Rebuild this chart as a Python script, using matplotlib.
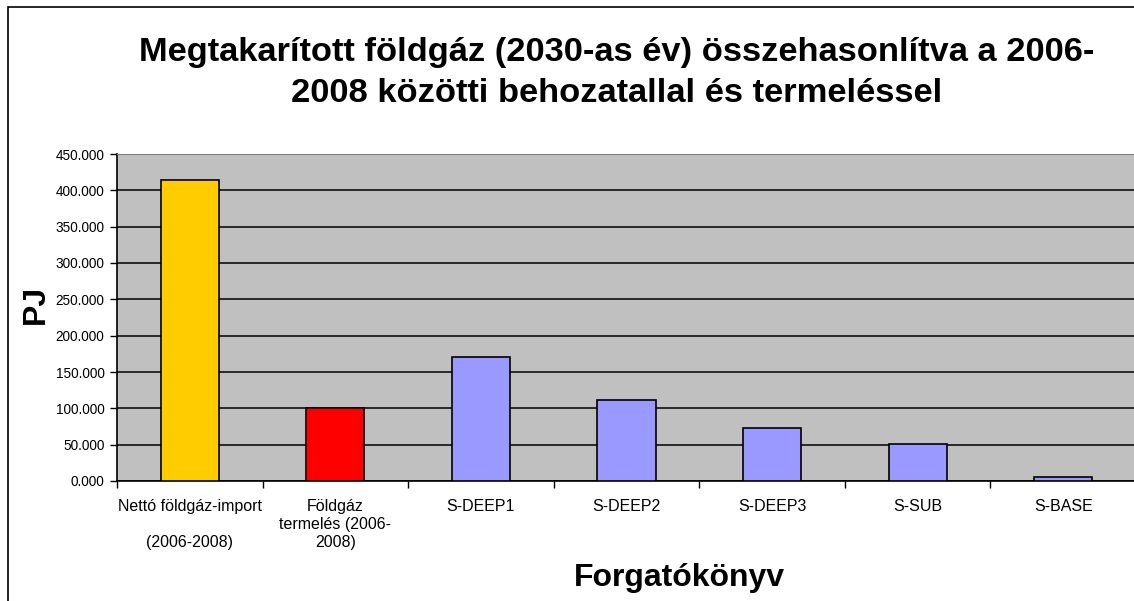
import matplotlib.pyplot as plt
import matplotlib.patches as patches
from matplotlib.ticker import FuncFormatter, MultipleLocator
import numpy as np

# Chart data
categories = ['Nettó földgáz-import\n\n(2006-2008)', 'Földgáz\ntermelés (2006-\n2008)',
              'S-DEEP1', 'S-DEEP2', 'S-DEEP3', 'S-SUB', 'S-BASE']
values = [414, 100, 170, 111.5, 73, 51.5, 6]
bar_colors = ['#FFCC00', '#FF0000', '#9999FF', '#9999FF', '#9999FF', '#9999FF', '#9999FF']

plt.rcParams['font.family'] = ['Liberation Sans', 'DejaVu Sans']

fig = plt.figure(figsize=(11.34, 6.01), dpi=100)

# outer border of the chart area (left and top edges visible)
border = patches.Rectangle((8 / 1134, -0.05), 1.2, 1 - 7 / 601 + 0.05,
                           transform=fig.transFigure, fill=False,
                           edgecolor='black', linewidth=1.2)
fig.patches.append(border)

ax = fig.add_axes([117 / 1134, 1 - 481 / 601, 1019 / 1134, 327 / 601])
ax.set_facecolor('#C0C0C0')

x = np.arange(len(categories))
ax.bar(x, values, width=0.4, color=bar_colors, edgecolor='black', linewidth=1.2, zorder=3)

ax.set_xlim(-0.5, len(categories) - 0.5)
ax.set_ylim(0, 450)

# y axis
ax.yaxis.set_major_locator(MultipleLocator(50))
ax.yaxis.set_major_formatter(FuncFormatter(lambda v, p: '%.3f' % v))
ax.tick_params(axis='y', direction='out', length=5, width=1, pad=4, labelsize=9.8)
ax.grid(axis='y', color='black', linewidth=1.1, zorder=1)
ax.yaxis.get_gridlines()[-1].set_color('#808080')

# x axis: ticks between categories, labels in the middle
ax.set_xticks(np.arange(len(categories) + 1) - 0.5)
ax.set_xticklabels([])
ax.set_xticks(x, minor=True)
ax.set_xticklabels(categories, minor=True, fontsize=11.5, linespacing=1.25)
ax.tick_params(axis='x', which='major', direction='out', length=5, width=1)
ax.tick_params(axis='x', which='minor', length=0, pad=13)

for side in ['left', 'bottom']:
    ax.spines[side].set_color('black')
    ax.spines[side].set_linewidth(1.2)
ax.spines['top'].set_color('#808080')
ax.spines['right'].set_visible(False)

ax.set_ylabel('PJ', fontsize=23, fontweight='bold', rotation=90, va='center')
ax.yaxis.set_label_coords(-0.08, 0.54)
ax.set_xlabel('Forgatókönyv', fontsize=23, fontweight='bold', va='center')
ax.xaxis.set_label_coords(0.552, -0.297)

fig.text(617 / 1134, 1 - 73 / 601,
         'Megtakarított földgáz (2030-as év) összehasonlítva a 2006-\n2008 közötti behozatallal és termeléssel',
         ha='center', va='center', fontsize=24.8, fontweight='bold', linespacing=1.38)

fig.savefig('out.png', dpi=100)
